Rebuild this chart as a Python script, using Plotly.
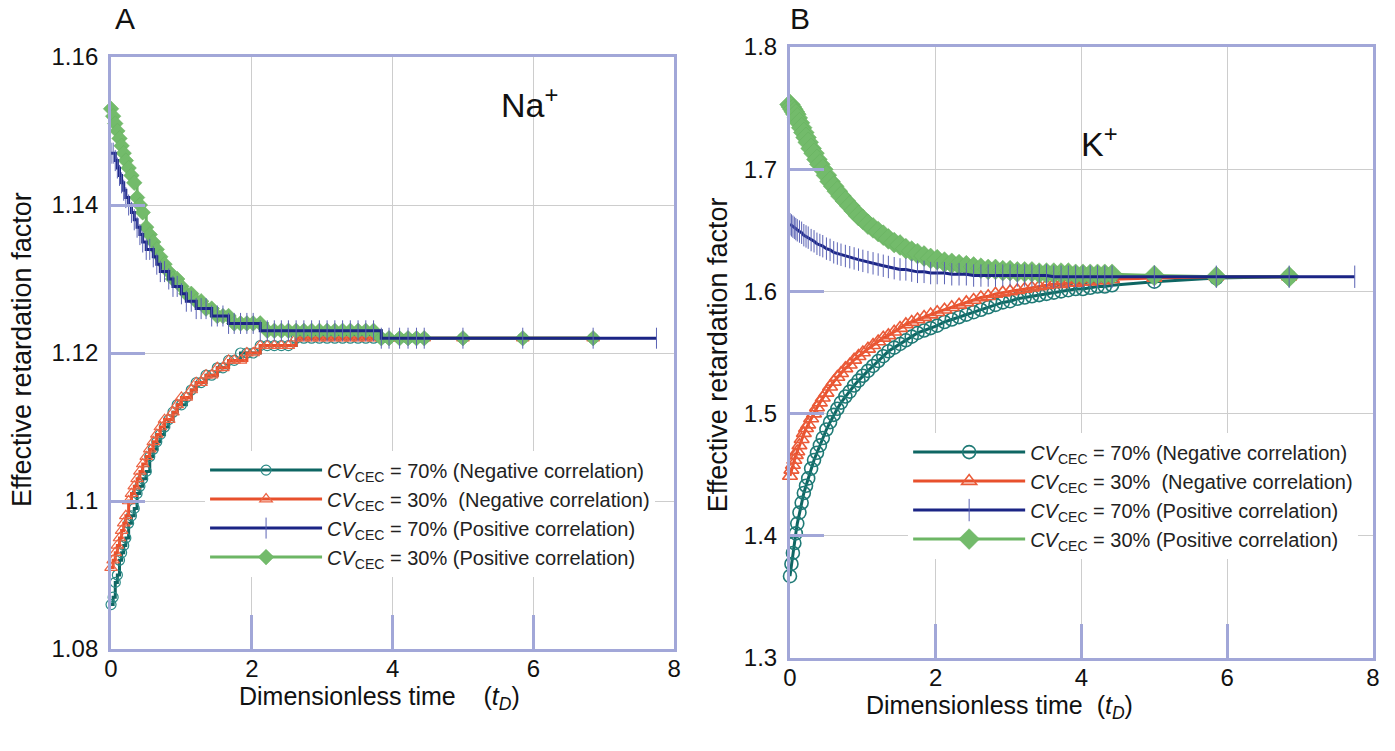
import plotly.graph_objects as go

# ---------------- Panel A: Na+ ----------------
t_na = [0, 0.03, 0.06, 0.09, 0.12, 0.15, 0.18, 0.21,
        0.25, 0.29, 0.33, 0.37, 0.41, 0.45,
        0.5, 0.55, 0.6, 0.65, 0.7,
        0.76, 0.82, 0.88, 0.94, 1.0,
        1.07, 1.14, 1.21, 1.28, 1.35,
        1.43, 1.51, 1.59, 1.67, 1.75,
        1.84, 1.93, 2.02,
        2.12, 2.22, 2.32, 2.42, 2.52,
        2.63, 2.74, 2.85, 2.96, 3.07,
        3.18, 3.29, 3.4, 3.51, 3.62,
        3.73, 3.84, 3.95,
        4.1, 4.22, 4.34, 4.45,
        5.0, 5.85, 6.85]
t_na_pos70 = [0, 0.03, 0.06, 0.09, 0.12, 0.15, 0.18, 0.21,
              0.25, 0.29, 0.33, 0.37, 0.41, 0.45,
              0.5, 0.55, 0.6, 0.65, 0.7,
              0.76, 0.82, 0.88, 0.94, 1.0,
              1.07, 1.14, 1.21, 1.28, 1.35,
              1.43, 1.51, 1.59, 1.67, 1.75,
              1.84, 1.93, 2.02,
              2.12, 2.22, 2.32, 2.42, 2.52,
              2.63, 2.74, 2.85, 2.96, 3.07,
              3.18, 3.29, 3.4, 3.51, 3.62,
              3.73, 3.84, 3.95,
              4.1, 4.22, 4.34, 4.45,
              5.0, 5.85, 6.85, 7.75]

na_neg70 = [1.086, 1.087, 1.089, 1.090, 1.092, 1.093, 1.094, 1.095,
            1.097, 1.098, 1.099, 1.101, 1.102, 1.103,
            1.104, 1.106, 1.107, 1.108, 1.109,
            1.110, 1.111, 1.112, 1.113, 1.113,
            1.114, 1.115, 1.116, 1.116, 1.117,
            1.117, 1.118, 1.118, 1.119, 1.119,
            1.120, 1.120, 1.120,
            1.121, 1.121, 1.121, 1.121, 1.121,
            1.122, 1.122, 1.122, 1.122, 1.122,
            1.122, 1.122, 1.122, 1.122, 1.122,
            1.122, 1.122, 1.122,
            1.122, 1.122, 1.122, 1.122,
            1.122, 1.122, 1.122]
na_neg30 = [1.091, 1.092, 1.093, 1.094, 1.095, 1.096, 1.097, 1.098,
            1.100, 1.101, 1.102, 1.103, 1.104, 1.105,
            1.106, 1.107, 1.108, 1.109, 1.110,
            1.111, 1.111, 1.112, 1.113, 1.114,
            1.114, 1.115, 1.116, 1.116, 1.117,
            1.117, 1.118, 1.118, 1.119, 1.119,
            1.119, 1.120, 1.120,
            1.121, 1.121, 1.121, 1.121, 1.121,
            1.122, 1.122, 1.122, 1.122, 1.122,
            1.122, 1.122, 1.122, 1.122, 1.122,
            1.122, 1.122, 1.122,
            1.122, 1.122, 1.122, 1.122,
            1.122, 1.122, 1.122]
na_pos70 = [1.147, 1.147, 1.146, 1.145, 1.144, 1.143, 1.142, 1.141,
            1.140, 1.139, 1.138, 1.137, 1.136, 1.135,
            1.134, 1.134, 1.133, 1.132, 1.131,
            1.131, 1.130, 1.129, 1.129, 1.128,
            1.127, 1.127, 1.126, 1.126, 1.126,
            1.125, 1.125, 1.125, 1.124, 1.124,
            1.124, 1.124, 1.124,
            1.123, 1.123, 1.123, 1.123, 1.123,
            1.123, 1.123, 1.123, 1.123, 1.123,
            1.123, 1.123, 1.123, 1.123, 1.123,
            1.123, 1.122, 1.122,
            1.122, 1.122, 1.122, 1.122,
            1.122, 1.122, 1.122, 1.122]
na_pos30 = [1.153, 1.152, 1.151, 1.150, 1.149, 1.148, 1.147, 1.146,
            1.145, 1.144, 1.143, 1.141, 1.140, 1.139,
            1.137, 1.136, 1.135, 1.134, 1.133,
            1.132, 1.131, 1.130, 1.130, 1.129,
            1.128, 1.128, 1.127, 1.127, 1.126,
            1.126, 1.125, 1.125, 1.125, 1.124,
            1.124, 1.124, 1.124,
            1.124, 1.123, 1.123, 1.123, 1.123,
            1.123, 1.123, 1.123, 1.123, 1.123,
            1.123, 1.123, 1.123, 1.123, 1.123,
            1.123, 1.122, 1.122,
            1.122, 1.122, 1.122, 1.122,
            1.122, 1.122, 1.122]

# ---------------- Panel B: K+ ----------------
t_k = [0, 0.02, 0.04, 0.06, 0.08, 0.1,
       0.13, 0.16, 0.19, 0.22, 0.25,
       0.29, 0.33, 0.37, 0.41, 0.45,
       0.5, 0.55, 0.6, 0.65, 0.7,
       0.76, 0.82, 0.88, 0.94, 1.0,
       1.07, 1.14, 1.21, 1.28, 1.35,
       1.43, 1.51, 1.59, 1.67, 1.75,
       1.84, 1.93, 2.02,
       2.12, 2.22, 2.32, 2.42, 2.52,
       2.62, 2.72, 2.82, 2.92, 3.02,
       3.12, 3.22, 3.32, 3.42, 3.52,
       3.62, 3.72, 3.82, 3.92, 4.02,
       4.12, 4.22, 4.32, 4.42,
       5.0, 5.85, 6.85]
t_k_pos70 = [0, 0.02, 0.04, 0.06, 0.08, 0.1,
             0.13, 0.16, 0.19, 0.22, 0.25,
             0.29, 0.33, 0.37, 0.41, 0.45,
             0.5, 0.55, 0.6, 0.65, 0.7,
             0.76, 0.82, 0.88, 0.94, 1.0,
             1.07, 1.14, 1.21, 1.28, 1.35,
             1.43, 1.51, 1.59, 1.67, 1.75,
             1.84, 1.93, 2.02,
             2.12, 2.22, 2.32, 2.42, 2.52,
             2.62, 2.72, 2.82, 2.92, 3.02,
             3.12, 3.22, 3.32, 3.42, 3.52,
             3.62, 3.72, 3.82, 3.92, 4.02,
             4.12, 4.22, 4.32, 4.42,
             5.0, 5.85, 6.85, 7.75]

k_neg70 = [1.367, 1.377, 1.386, 1.394, 1.402, 1.410,
           1.419, 1.427, 1.435, 1.441, 1.447,
           1.455, 1.462, 1.468, 1.474, 1.480,
           1.487, 1.493, 1.499, 1.504, 1.509,
           1.514, 1.518, 1.523, 1.527, 1.531,
           1.535, 1.539, 1.543, 1.547, 1.551,
           1.554, 1.557, 1.560, 1.563, 1.566,
           1.568, 1.570, 1.572,
           1.575, 1.577, 1.579, 1.581, 1.583,
           1.585, 1.587, 1.589, 1.591, 1.592,
           1.594, 1.595, 1.596, 1.597, 1.598,
           1.599, 1.600, 1.601, 1.602, 1.602,
           1.603, 1.604, 1.604, 1.605,
           1.608, 1.611, 1.612]
k_neg30 = [1.449, 1.454, 1.458, 1.462, 1.466, 1.469,
           1.474, 1.479, 1.484, 1.488, 1.491,
           1.496, 1.500, 1.505, 1.509, 1.513,
           1.517, 1.522, 1.526, 1.530, 1.533,
           1.537, 1.540, 1.544, 1.547, 1.550,
           1.553, 1.556, 1.559, 1.562, 1.564,
           1.567, 1.570, 1.573, 1.575, 1.577,
           1.579, 1.581, 1.583,
           1.585, 1.587, 1.589, 1.591, 1.593,
           1.595, 1.596, 1.598, 1.599, 1.600,
           1.601, 1.602, 1.603, 1.604, 1.605,
           1.606, 1.606, 1.607, 1.607, 1.608,
           1.608, 1.609, 1.609, 1.610,
           1.611, 1.612, 1.612]
k_pos70 = [1.655, 1.654, 1.653, 1.652, 1.651, 1.650,
           1.649, 1.648, 1.646, 1.645, 1.644,
           1.642, 1.641, 1.639, 1.638, 1.637,
           1.635, 1.634, 1.632, 1.631, 1.630,
           1.629, 1.628, 1.627, 1.626, 1.625,
           1.624, 1.623, 1.622, 1.621, 1.620,
           1.619, 1.618, 1.618, 1.617, 1.616,
           1.616, 1.615, 1.615,
           1.615, 1.614, 1.614, 1.614, 1.613,
           1.613, 1.613, 1.613, 1.613, 1.613,
           1.613, 1.613, 1.613, 1.613, 1.613,
           1.612, 1.612, 1.612, 1.612, 1.612,
           1.612, 1.612, 1.612, 1.612,
           1.612, 1.612, 1.612, 1.612]
k_pos30 = [1.753, 1.751, 1.749, 1.747, 1.745, 1.742,
           1.738, 1.734, 1.730, 1.726, 1.722,
           1.717, 1.713, 1.708, 1.704, 1.700,
           1.695, 1.690, 1.686, 1.682, 1.678,
           1.674, 1.670, 1.666, 1.662, 1.659,
           1.655, 1.652, 1.649, 1.646, 1.643,
           1.640, 1.638, 1.635, 1.633, 1.631,
           1.629, 1.627, 1.626,
           1.624, 1.623, 1.622, 1.621, 1.620,
           1.619, 1.618, 1.618, 1.617, 1.617,
           1.616, 1.616, 1.616, 1.615, 1.615,
           1.615, 1.615, 1.615, 1.614, 1.614,
           1.614, 1.614, 1.614, 1.614,
           1.613, 1.612, 1.612]

series_names = [
    "<i>CV</i><sub>CEC</sub> = 70% (Negative correlation)",
    "<i>CV</i><sub>CEC</sub> = 30%  (Negative correlation)",
    "<i>CV</i><sub>CEC</sub> = 70% (Positive correlation)",
    "<i>CV</i><sub>CEC</sub> = 30% (Positive correlation)",
]

FONT = "Liberation Sans, Arial, sans-serif"
FRAME = "#a2a7d8"
GRID = "#cdcdcd"

# line / marker styling for the four cases, per panel (panel B draws denser bands)
STYLES_A = [
    dict(line=dict(color="#0e6663", width=3),
         marker=dict(symbol="circle-open", size=10, color="#2a8a86",
                     line=dict(width=1.2, color="#2a8a86"))),
    dict(line=dict(color="#e8502c", width=3),
         marker=dict(symbol="triangle-up-open", size=11, color="#ec6444",
                     line=dict(width=1.2, color="#ec6444"))),
    dict(line=dict(color="#1b2585", width=3),
         marker=dict(symbol="line-ns", size=15, color="#5a62b4",
                     line=dict(width=1, color="#5a62b4"))),
    dict(line=dict(color="#6db665", width=3),
         marker=dict(symbol="diamond", size=12, color="#73bb6b",
                     line=dict(width=0.5, color="#66b05e"))),
]
STYLES_B = [
    dict(line=dict(color="#0e6663", width=3),
         marker=dict(symbol="circle-open", size=13, color="#1f7a76",
                     line=dict(width=1.6, color="#1f7a76"))),
    dict(line=dict(color="#e8502c", width=3),
         marker=dict(symbol="triangle-up-open", size=13, color="#ea5a38",
                     line=dict(width=1.6, color="#ea5a38"))),
    dict(line=dict(color="#1b2585", width=3),
         marker=dict(symbol="line-ns", size=16, color="#5a62b4",
                     line=dict(width=1, color="#5a62b4"))),
    dict(line=dict(color="#6db665", width=3),
         marker=dict(symbol="diamond", size=16, color="#73bb6b",
                     line=dict(width=0.5, color="#66b05e"))),
]

fig = go.Figure()

panels = [
    dict(xa="x", ya="y", legend="legend", shape="hv", styles=STYLES_A,
         data=[(t_na, na_neg70), (t_na, na_neg30), (t_na_pos70, na_pos70), (t_na, na_pos30)]),
    dict(xa="x2", ya="y2", legend="legend2", shape="linear", styles=STYLES_B,
         data=[(t_k, k_neg70), (t_k, k_neg30), (t_k_pos70, k_pos70), (t_k, k_pos30)]),
]

# drawing order: negative cases first, then the 30% positive, then 70% positive on top
draw_order = [0, 1, 3, 2]
for p in panels:
    for i in draw_order:
        tx, ry = p["data"][i]
        st = p["styles"][i]
        fig.add_trace(go.Scatter(
            x=tx, y=ry, mode="lines+markers", name=series_names[i],
            xaxis=p["xa"], yaxis=p["ya"], legend=p["legend"], legendrank=i + 1,
            line=dict(color=st["line"]["color"], width=st["line"]["width"], shape=p["shape"]),
            marker=st["marker"], cliponaxis=False, showlegend=True,
        ))

axis_common = dict(
    showgrid=True, gridcolor=GRID, gridwidth=1, zeroline=False, automargin=False,
    showline=True, mirror=True, linecolor=FRAME, linewidth=3,
    ticks="inside", ticklen=34, tickwidth=3, tickcolor=FRAME,
    tickfont=dict(family=FONT, size=24, color="#111"),
)

legend_common = dict(
    xanchor="left", yanchor="top", bgcolor="white", borderwidth=0,
    font=dict(family=FONT, size=20, color="#222"), itemwidth=112,
    tracegroupgap=0, traceorder="normal",
)

fig.update_layout(
    width=1395, height=751,
    margin=dict(l=0, r=0, t=0, b=0, autoexpand=False),
    paper_bgcolor="white", plot_bgcolor="white",
    xaxis=dict(domain=[0.0796, 0.4832], anchor="y", range=[0, 8], dtick=2,
               ticklabelstandoff=-4, **axis_common),
    yaxis=dict(domain=[0.1358, 0.9241], anchor="x", range=[1.08, 1.16], dtick=0.02,
               ticklabelstandoff=5, **axis_common),
    xaxis2=dict(domain=[0.5663, 0.9842], anchor="y2", range=[0, 8], dtick=2,
                ticklabelstandoff=-4, **axis_common),
    yaxis2=dict(domain=[0.1238, 0.9374], anchor="x2", range=[1.3, 1.8], dtick=0.1,
                ticklabelstandoff=5, **axis_common),
    legend=dict(x=0.147, y=0.400, **legend_common),
    legend2=dict(x=0.651, y=0.424, **legend_common),
    font=dict(family=FONT, color="#111"),
)

NB = "\u00a0"
annotations = [
    dict(text="A", x=0.0896, y=0.975, xref="paper", yref="paper", font=dict(size=30)),
    dict(text="B", x=0.5735, y=0.975, xref="paper", yref="paper", font=dict(size=30)),
    dict(text="Na<sup>+</sup>", x=5.95, y=1.1539, xref="x", yref="y", font=dict(size=34)),
    dict(text="K<sup>+</sup>", x=4.25, y=1.7224, xref="x2", yref="y2", font=dict(size=34)),
    dict(text="Dimensionless time" + NB * 4 + "(<i>t<sub>D</sub></i>)",
         x=0.2724, y=0.070, xref="paper", yref="paper", font=dict(size=25)),
    dict(text="Dimensionless time" + NB * 2 + "(<i>t<sub>D</sub></i>)",
         x=0.7168, y=0.058, xref="paper", yref="paper", font=dict(size=25)),
    dict(text="Effective retardation factor", x=0.0158, y=0.534, xref="paper", yref="paper",
         textangle=-90, font=dict(size=27)),
    dict(text="Effective retardation factor", x=0.5147, y=0.527, xref="paper", yref="paper",
         textangle=-90, font=dict(size=27)),
]
for a in annotations:
    a.setdefault("showarrow", False)
    a["xanchor"] = "center"
    a["yanchor"] = "middle"
    a["font"] = dict(family=FONT, color="#111", **a["font"])
    fig.add_annotation(**a)

fig.write_html("out.html")
